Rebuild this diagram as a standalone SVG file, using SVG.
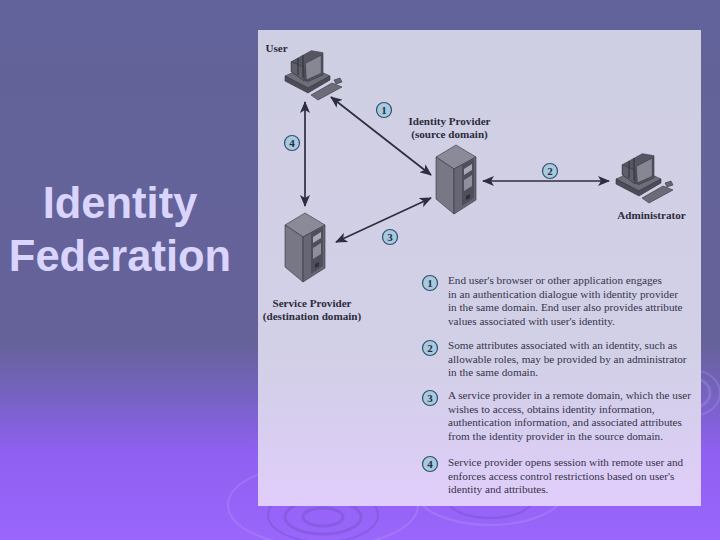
<svg xmlns="http://www.w3.org/2000/svg" width="720" height="540" viewBox="0 0 720 540">
<style>
.title{font:bold 43.500px "Liberation Sans",Arial,sans-serif;fill:#d9d5ff;text-anchor:middle}
.lab{font:bold 11.100px "Liberation Serif","Times New Roman",serif;fill:#2c2c3c;text-anchor:middle}
.t{font:11.200px "Liberation Serif","Times New Roman",serif;fill:#34344a}
.b{fill:#a9c9dd;stroke:#2f4f70;stroke-width:1.2}
.n{font:bold 11px "Liberation Serif","Times New Roman",serif;fill:#22304a;text-anchor:middle}
.c{fill:none;stroke:#2e2e40;stroke-width:1.7;marker-start:url(#hs);marker-end:url(#he)}
.r{fill:none;stroke:#cdbcf5;stroke-opacity:.2}
.rd{fill:none;stroke:#5f4bb0;stroke-opacity:.3}
.e{stroke:#33333f;stroke-width:.6}
</style>
<defs>
<linearGradient id="bg" x1="0" y1="0" x2="0" y2="1">
<stop offset="0" stop-color="#62639a"/><stop offset=".63" stop-color="#656299"/><stop offset=".72" stop-color="#7462bd"/><stop offset=".84" stop-color="#8f60f2"/><stop offset="1" stop-color="#9a66fb"/>
</linearGradient>
<linearGradient id="pn" x1="0" y1="0" x2="0" y2="1">
<stop offset="0" stop-color="#cfcfe4"/><stop offset=".68" stop-color="#d2d0e6"/><stop offset=".85" stop-color="#d8cef0"/><stop offset="1" stop-color="#e1cdfb"/>
</linearGradient>
<marker id="he" viewBox="0 0 12 10" refX="11" refY="5" markerWidth="12" markerHeight="10" markerUnits="userSpaceOnUse" orient="auto"><path d="M0 0L12 5L0 10L3 5Z" fill="#2e2e40"/></marker>
<marker id="hs" viewBox="0 0 12 10" refX="1" refY="5" markerWidth="12" markerHeight="10" markerUnits="userSpaceOnUse" orient="auto"><path d="M12 0L0 5L12 10L9 5Z" fill="#2e2e40"/></marker>
<g id="server">
<path class="e" d="M285 225L305 213L325 225L303 237Z" fill="#8a8a98"/>
<path class="e" d="M285 225L303 237V282L285 267Z" fill="#777786"/>
<path class="e" d="M303 237L325 225V268L303 282Z" fill="#666674"/>
<path d="M311 233L323 227V266L311 274Z" fill="#4f4f5c"/>
<path d="M313 237L321 232V238L313 243Z" fill="#a8a8b6"/>
<path d="M313 248L321 243V254L313 259Z" fill="#8e8e9c"/>
<path d="M315 264L319 262V266L315 268Z" fill="#30303c"/>
</g>
<g id="pc">
<path class="e" d="M285 76L308 66L330 76L308 88Z" fill="#6e6e7a"/>
<path class="e" d="M285 76L308 88L330 76V80L308 93L285 81Z" fill="#4c4c58"/>
<path class="e" d="M291.300 61.700L311.300 50.700L323 52.700V75L307.300 81.700L291.300 71.700Z" fill="#565662"/>
<path class="e" d="M291.300 61.700L304 67V81L291.300 71.700Z" fill="#5f5f6c"/>
<path class="e" d="M305.300 63.300L321.300 55V73.300L306.300 80Z" fill="#878793"/>
<path d="M298 58V75M303 55V78" stroke="#2f2f3a" fill="none"/>
<path class="e" d="M311 95L332 83L342 87L318 100Z" fill="#6c6c78"/>
<path class="e" d="M334 80L340 78L342 82L336 84Z" fill="#666672"/>
</g>
</defs>
<rect id="background" width="720" height="540" fill="url(#bg)"/>
<g id="ripples">
<ellipse class="rd" cx="323" cy="517" rx="20" ry="9" stroke-width="3"/>
<ellipse class="rd" cx="323" cy="517" rx="38" ry="17" stroke-width="3"/>
<ellipse class="rd" cx="323" cy="515" rx="55" ry="27" stroke-width="2"/>
<ellipse class="r" cx="323" cy="505" rx="95" ry="42" stroke-width="2"/>
<ellipse class="rd" cx="490" cy="500" rx="42" ry="18" stroke-width="2"/>
<ellipse class="r" cx="490" cy="490" rx="75" ry="35" stroke-width="2"/>
<ellipse class="r" cx="692" cy="393" rx="18" ry="15" stroke-width="3"/>
<ellipse class="r" cx="692" cy="393" rx="28" ry="23" stroke-width="2"/>
</g>
<rect id="panel" x="258" y="30" width="443" height="476" fill="url(#pn)"/>
<g id="title"><text class="title" x="120" y="218">Identity</text><text class="title" x="120" y="271">Federation</text></g>
<g id="connectors">
<path class="c" d="M331 97L431 175"/>
<path class="c" d="M305 102V206"/>
<path class="c" d="M336 242L431 198"/>
<path class="c" d="M483 181H609"/>
</g>
<g id="user"><use href="#pc"/><text class="lab" x="276.500" y="52">User</text></g>
<g id="identity-provider"><use href="#server" transform="translate(151 -68)"/><text class="lab" x="449.500" y="125">Identity Provider</text><text class="lab" x="449.500" y="138">(source domain)</text></g>
<g id="service-provider"><use href="#server"/><text class="lab" x="312" y="307">Service Provider</text><text class="lab" x="312" y="320">(destination domain)</text></g>
<g id="administrator"><use href="#pc" transform="translate(331 103)"/><text class="lab" x="651.500" y="219">Administrator</text></g>
<g id="badge-1"><circle class="b" cx="384" cy="110" r="7.500"/><text class="n" x="384" y="114">1</text></g>
<g id="badge-2"><circle class="b" cx="550" cy="171" r="7.500"/><text class="n" x="550" y="175">2</text></g>
<g id="badge-3"><circle class="b" cx="390" cy="237" r="7.500"/><text class="n" x="390" y="241">3</text></g>
<g id="badge-4"><circle class="b" cx="292" cy="143" r="7.500"/><text class="n" x="292" y="147">4</text></g>
<g id="legend-1"><circle class="b" cx="430" cy="283" r="7.500"/><text class="n" x="430" y="287">1</text>
<text class="t" x="448" y="284">End user's browser or other application engages</text>
<text class="t" x="448" y="297.500">in an authentication dialogue with identity provider</text>
<text class="t" x="448" y="311">in the same domain. End user also provides attribute</text>
<text class="t" x="448" y="324.500">values associated with user's identity.</text></g>
<g id="legend-2"><circle class="b" cx="430" cy="348" r="7.500"/><text class="n" x="430" y="352">2</text>
<text class="t" x="448" y="349">Some attributes associated with an identity, such as</text>
<text class="t" x="448" y="362.500">allowable roles, may be provided by an administrator</text>
<text class="t" x="448" y="376">in the same domain.</text></g>
<g id="legend-3"><circle class="b" cx="430" cy="398" r="7.500"/><text class="n" x="430" y="402">3</text>
<text class="t" x="448" y="399">A service provider in a remote domain, which the user</text>
<text class="t" x="448" y="412.500">wishes to access, obtains identity information,</text>
<text class="t" x="448" y="426">authentication information, and associated attributes</text>
<text class="t" x="448" y="439.500">from the identity provider in the source domain.</text></g>
<g id="legend-4"><circle class="b" cx="430" cy="464" r="7.500"/><text class="n" x="430" y="468">4</text>
<text class="t" x="448" y="466">Service provider opens session with remote user and</text>
<text class="t" x="448" y="479.500">enforces access control restrictions based on user's</text>
<text class="t" x="448" y="493">identity and attributes.</text></g>
</svg>
